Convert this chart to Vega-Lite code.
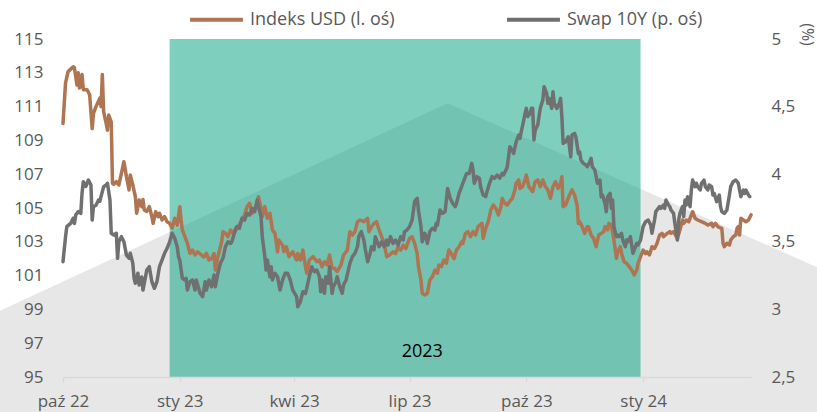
{
"$schema":"https://vega.github.io/schema/vega-lite/v6.json",
"width":688,"height":338,
"autosize":{"type":"none"},
"padding":{"left":63,"top":39,"right":66,"bottom":35},
"background":"white",
"config":{"view":{"stroke":null},"font":"Open Sans","axis":{"grid":false,"labelFont":"Open Sans","labelFontSize":17,"labelColor":"#595959"}},
"datasets":{
"bg":[{"d":"2022-08-12","v":98.9},{"d":"2023-07-31","v":111.2},{"d":"2024-05-17","v":101.5}],
"band":[{"a":"2022-12-24","b":"2023-12-30"}],
"lab":[{"d":"2023-07-11","v":96.5,"t":"2023"}],
"usd":[
{"d":"2022-10-01","v":110.0},{"d":"2022-10-03","v":112.4},{"d":"2022-10-05","v":113.07},{"d":"2022-10-09","v":113.36},{"d":"2022-10-10","v":113.3},{"d":"2022-10-12","v":112.28},{"d":"2022-10-13","v":113.0},{"d":"2022-10-14","v":112.1},{"d":"2022-10-16","v":112.9},{"d":"2022-10-17","v":112.0},{"d":"2022-10-20","v":112.0},{"d":"2022-10-22","v":111.7},{"d":"2022-10-24","v":109.7},{"d":"2022-10-25","v":110.6},{"d":"2022-10-27","v":111.0},{"d":"2022-10-30","v":111.5},{"d":"2022-10-31","v":111.0},{"d":"2022-11-01","v":112.9},{"d":"2022-11-02","v":110.7},{"d":"2022-11-04","v":110.0},{"d":"2022-11-05","v":109.6},{"d":"2022-11-06","v":110.5},{"d":"2022-11-08","v":110.1},{"d":"2022-11-09","v":106.46},{"d":"2022-11-10","v":106.4},{"d":"2022-11-12","v":106.56},{"d":"2022-11-14","v":106.36},{"d":"2022-11-16","v":107.05},{"d":"2022-11-18","v":107.74},{"d":"2022-11-20","v":106.85},{"d":"2022-11-22","v":106.07},{"d":"2022-11-23","v":106.95},{"d":"2022-11-25","v":106.36},{"d":"2022-11-27","v":105.67},{"d":"2022-11-28","v":104.69},{"d":"2022-11-30","v":105.47},{"d":"2022-12-02","v":105.08},{"d":"2022-12-03","v":105.5},{"d":"2022-12-04","v":104.88},{"d":"2022-12-06","v":104.8},{"d":"2022-12-08","v":105.08},{"d":"2022-12-10","v":104.49},{"d":"2022-12-11","v":104.09},{"d":"2022-12-13","v":104.78},{"d":"2022-12-15","v":104.49},{"d":"2022-12-16","v":104.69},{"d":"2022-12-18","v":104.29},{"d":"2022-12-20","v":104.49},{"d":"2022-12-22","v":104.19},{"d":"2022-12-24","v":104.09},{"d":"2022-12-26","v":103.8},{"d":"2022-12-28","v":104.39},{"d":"2022-12-30","v":103.99},
{"d":"2023-01-01","v":105.08},{"d":"2023-01-02","v":104.29},{"d":"2023-01-03","v":103.7},{"d":"2023-01-05","v":103.3},{"d":"2023-01-07","v":102.91},{"d":"2023-01-09","v":102.32},{"d":"2023-01-11","v":102.51},{"d":"2023-01-13","v":102.22},{"d":"2023-01-15","v":102.41},{"d":"2023-01-18","v":102.22},{"d":"2023-01-20","v":102.1},{"d":"2023-01-22","v":102.32},{"d":"2023-01-24","v":101.92},{"d":"2023-01-26","v":102.0},{"d":"2023-01-28","v":102.3},{"d":"2023-01-29","v":101.33},{"d":"2023-01-31","v":102.12},{"d":"2023-02-03","v":103.0},{"d":"2023-02-04","v":103.6},{"d":"2023-02-06","v":103.5},{"d":"2023-02-08","v":103.3},{"d":"2023-02-10","v":103.7},{"d":"2023-02-12","v":103.5},{"d":"2023-02-14","v":103.8},{"d":"2023-02-16","v":103.9},{"d":"2023-02-19","v":104.29},{"d":"2023-02-21","v":104.59},{"d":"2023-02-23","v":105.08},{"d":"2023-02-25","v":105.28},{"d":"2023-02-27","v":104.69},{"d":"2023-03-01","v":104.88},{"d":"2023-03-03","v":105.37},{"d":"2023-03-04","v":105.67},{"d":"2023-03-06","v":104.98},{"d":"2023-03-07","v":104.49},{"d":"2023-03-09","v":105.08},{"d":"2023-03-11","v":104.39},{"d":"2023-03-13","v":104.69},{"d":"2023-03-15","v":103.7},{"d":"2023-03-17","v":103.5},{"d":"2023-03-19","v":102.41},{"d":"2023-03-20","v":103.1},{"d":"2023-03-23","v":102.8},{"d":"2023-03-24","v":102.41},{"d":"2023-03-26","v":102.7},{"d":"2023-03-28","v":102.12},{"d":"2023-03-31","v":102.41},{"d":"2023-04-03","v":101.92},{"d":"2023-04-04","v":102.3},{"d":"2023-04-06","v":101.92},{"d":"2023-04-08","v":102.51},{"d":"2023-04-10","v":101.53},{"d":"2023-04-11","v":101.14},{"d":"2023-04-13","v":101.92},{"d":"2023-04-16","v":102.12},{"d":"2023-04-19","v":101.82},{"d":"2023-04-21","v":101.92},{"d":"2023-04-23","v":101.53},{"d":"2023-04-25","v":101.82},{"d":"2023-04-27","v":101.63},{"d":"2023-04-29","v":102.22},{"d":"2023-05-01","v":101.43},{"d":"2023-05-03","v":101.43},{"d":"2023-05-05","v":101.23},{"d":"2023-05-08","v":101.63},{"d":"2023-05-10","v":102.22},{"d":"2023-05-13","v":102.51},{"d":"2023-05-15","v":103.6},{"d":"2023-05-17","v":103.4},{"d":"2023-05-19","v":103.6},{"d":"2023-05-21","v":104.19},{"d":"2023-05-23","v":104.29},{"d":"2023-05-26","v":104.19},{"d":"2023-05-29","v":104.39},{"d":"2023-05-30","v":103.6},{"d":"2023-06-01","v":103.89},{"d":"2023-06-03","v":104.09},{"d":"2023-06-05","v":104.19},{"d":"2023-06-07","v":103.7},{"d":"2023-06-09","v":103.3},{"d":"2023-06-11","v":102.91},{"d":"2023-06-13","v":102.12},{"d":"2023-06-15","v":102.2},{"d":"2023-06-18","v":102.41},{"d":"2023-06-20","v":102.3},{"d":"2023-06-22","v":102.71},{"d":"2023-06-24","v":102.51},{"d":"2023-06-26","v":102.8},{"d":"2023-06-28","v":102.6},{"d":"2023-07-01","v":103.2},{"d":"2023-07-03","v":103.3},{"d":"2023-07-05","v":102.91},{"d":"2023-07-07","v":102.32},{"d":"2023-07-08","v":101.53},{"d":"2023-07-10","v":100.74},{"d":"2023-07-11","v":99.95},{"d":"2023-07-13","v":99.85},{"d":"2023-07-15","v":99.95},{"d":"2023-07-17","v":100.74},{"d":"2023-07-19","v":100.94},{"d":"2023-07-21","v":101.33},{"d":"2023-07-23","v":101.14},{"d":"2023-07-24","v":101.63},{"d":"2023-07-26","v":101.53},{"d":"2023-07-28","v":101.92},{"d":"2023-07-30","v":101.73},{"d":"2023-08-01","v":102.51},{"d":"2023-08-03","v":102.3},{"d":"2023-08-05","v":102.0},{"d":"2023-08-07","v":102.51},{"d":"2023-08-09","v":102.71},{"d":"2023-08-11","v":103.0},{"d":"2023-08-12","v":102.9},{"d":"2023-08-14","v":103.5},{"d":"2023-08-16","v":103.6},{"d":"2023-08-18","v":103.3},{"d":"2023-08-20","v":103.6},{"d":"2023-08-22","v":103.4},{"d":"2023-08-24","v":103.9},{"d":"2023-08-27","v":104.09},{"d":"2023-08-28","v":103.2},{"d":"2023-08-30","v":103.8},{"d":"2023-09-01","v":104.19},{"d":"2023-09-03","v":104.88},{"d":"2023-09-05","v":105.18},{"d":"2023-09-07","v":104.98},{"d":"2023-09-09","v":104.59},{"d":"2023-09-11","v":105.08},{"d":"2023-09-12","v":105.57},{"d":"2023-09-14","v":105.28},{"d":"2023-09-16","v":105.18},{"d":"2023-09-18","v":105.4},{"d":"2023-09-20","v":105.57},{"d":"2023-09-22","v":106.07},{"d":"2023-09-23","v":106.46},{"d":"2023-09-25","v":106.66},{"d":"2023-09-26","v":106.16},{"d":"2023-09-28","v":106.26},{"d":"2023-09-30","v":106.66},{"d":"2023-10-01","v":106.95},{"d":"2023-10-03","v":106.26},{"d":"2023-10-05","v":106.07},{"d":"2023-10-06","v":105.97},{"d":"2023-10-08","v":106.56},{"d":"2023-10-10","v":106.66},{"d":"2023-10-12","v":106.26},{"d":"2023-10-14","v":106.66},{"d":"2023-10-16","v":106.26},{"d":"2023-10-18","v":106.07},{"d":"2023-10-20","v":105.57},{"d":"2023-10-22","v":106.26},{"d":"2023-10-24","v":106.56},{"d":"2023-10-26","v":106.16},{"d":"2023-10-28","v":106.46},{"d":"2023-10-29","v":106.85},{"d":"2023-10-30","v":105.08},{"d":"2023-11-01","v":105.18},{"d":"2023-11-04","v":105.77},{"d":"2023-11-06","v":106.07},{"d":"2023-11-08","v":105.77},{"d":"2023-11-10","v":105.18},{"d":"2023-11-11","v":104.09},{"d":"2023-11-12","v":104.19},{"d":"2023-11-14","v":103.9},{"d":"2023-11-16","v":103.5},{"d":"2023-11-18","v":103.89},{"d":"2023-11-19","v":103.89},{"d":"2023-11-21","v":103.4},{"d":"2023-11-23","v":103.2},{"d":"2023-11-25","v":102.71},{"d":"2023-11-27","v":103.4},{"d":"2023-11-29","v":103.5},{"d":"2023-12-01","v":103.6},{"d":"2023-12-02","v":103.9},{"d":"2023-12-04","v":103.7},{"d":"2023-12-05","v":104.09},{"d":"2023-12-07","v":104.0},{"d":"2023-12-09","v":103.1},{"d":"2023-12-11","v":102.02},{"d":"2023-12-12","v":102.41},{"d":"2023-12-14","v":102.71},{"d":"2023-12-15","v":102.32},{"d":"2023-12-17","v":101.82},{"d":"2023-12-19","v":101.73},{"d":"2023-12-21","v":101.53},{"d":"2023-12-23","v":101.33},{"d":"2023-12-25","v":101.04},{"d":"2023-12-27","v":101.33},{"d":"2023-12-28","v":101.73},{"d":"2023-12-30","v":102.12},
{"d":"2024-01-01","v":102.51},{"d":"2024-01-03","v":102.3},{"d":"2024-01-04","v":102.41},{"d":"2024-01-06","v":102.22},{"d":"2024-01-08","v":102.71},{"d":"2024-01-10","v":102.6},{"d":"2024-01-12","v":102.91},{"d":"2024-01-14","v":103.4},{"d":"2024-01-16","v":103.5},{"d":"2024-01-17","v":103.3},{"d":"2024-01-20","v":103.5},{"d":"2024-01-22","v":103.6},{"d":"2024-01-23","v":103.5},{"d":"2024-01-25","v":103.6},{"d":"2024-01-28","v":103.2},{"d":"2024-01-30","v":103.7},{"d":"2024-02-01","v":104.29},{"d":"2024-02-02","v":104.09},{"d":"2024-02-04","v":104.29},{"d":"2024-02-06","v":104.19},{"d":"2024-02-08","v":104.59},{"d":"2024-02-09","v":104.78},{"d":"2024-02-11","v":104.39},{"d":"2024-02-13","v":104.29},{"d":"2024-02-16","v":104.19},{"d":"2024-02-19","v":104.09},{"d":"2024-02-21","v":103.99},{"d":"2024-02-24","v":104.09},{"d":"2024-02-25","v":103.89},{"d":"2024-02-27","v":104.09},{"d":"2024-02-29","v":103.89},{"d":"2024-03-03","v":103.8},{"d":"2024-03-04","v":102.91},{"d":"2024-03-05","v":102.71},{"d":"2024-03-07","v":102.91},{"d":"2024-03-09","v":102.81},{"d":"2024-03-10","v":103.1},{"d":"2024-03-12","v":103.3},{"d":"2024-03-14","v":103.4},{"d":"2024-03-15","v":103.8},{"d":"2024-03-16","v":103.9},{"d":"2024-03-17","v":103.4},{"d":"2024-03-18","v":104.39},{"d":"2024-03-20","v":104.29},{"d":"2024-03-22","v":104.19},{"d":"2024-03-24","v":104.29},{"d":"2024-03-26","v":104.59}
],
"swap":[
{"d":"2022-10-01","v":3.353},{"d":"2022-10-03","v":3.538},{"d":"2022-10-04","v":3.612},{"d":"2022-10-07","v":3.636},{"d":"2022-10-09","v":3.674},{"d":"2022-10-10","v":3.636},{"d":"2022-10-11","v":3.698},{"d":"2022-10-13","v":3.723},{"d":"2022-10-15","v":3.71},{"d":"2022-10-16","v":3.859},{"d":"2022-10-17","v":3.944},{"d":"2022-10-19","v":3.91},{"d":"2022-10-21","v":3.957},{"d":"2022-10-23","v":3.92},{"d":"2022-10-24","v":3.661},{"d":"2022-10-25","v":3.76},{"d":"2022-10-27","v":3.77},{"d":"2022-10-29","v":3.809},{"d":"2022-10-30","v":3.8},{"d":"2022-11-01","v":3.871},{"d":"2022-11-02","v":3.907},{"d":"2022-11-04","v":3.92},{"d":"2022-11-05","v":3.933},{"d":"2022-11-07","v":3.809},{"d":"2022-11-08","v":3.563},{"d":"2022-11-10","v":3.55},{"d":"2022-11-12","v":3.563},{"d":"2022-11-13","v":3.378},{"d":"2022-11-14","v":3.5},{"d":"2022-11-16","v":3.538},{"d":"2022-11-18","v":3.5},{"d":"2022-11-20","v":3.402},{"d":"2022-11-22","v":3.378},{"d":"2022-11-23","v":3.415},{"d":"2022-11-25","v":3.341},{"d":"2022-11-26","v":3.23},{"d":"2022-11-27","v":3.193},{"d":"2022-11-29","v":3.267},{"d":"2022-11-30","v":3.18},{"d":"2022-12-02","v":3.24},{"d":"2022-12-03","v":3.143},{"d":"2022-12-05","v":3.24},{"d":"2022-12-06","v":3.291},{"d":"2022-12-08","v":3.316},{"d":"2022-12-10","v":3.205},{"d":"2022-12-12","v":3.156},{"d":"2022-12-14","v":3.205},{"d":"2022-12-16","v":3.316},{"d":"2022-12-18","v":3.365},{"d":"2022-12-20","v":3.415},{"d":"2022-12-22","v":3.452},{"d":"2022-12-24","v":3.5},{"d":"2022-12-26","v":3.563},{"d":"2022-12-28","v":3.526},{"d":"2022-12-30","v":3.464},{"d":"2022-12-31","v":3.39},
{"d":"2023-01-01","v":3.365},{"d":"2023-01-03","v":3.23},{"d":"2023-01-05","v":3.218},{"d":"2023-01-06","v":3.23},{"d":"2023-01-07","v":3.143},{"d":"2023-01-09","v":3.205},{"d":"2023-01-11","v":3.218},{"d":"2023-01-13","v":3.143},{"d":"2023-01-14","v":3.218},{"d":"2023-01-17","v":3.119},{"d":"2023-01-19","v":3.094},{"d":"2023-01-21","v":3.205},{"d":"2023-01-22","v":3.143},{"d":"2023-01-24","v":3.218},{"d":"2023-01-26","v":3.168},{"d":"2023-01-28","v":3.254},{"d":"2023-01-29","v":3.168},{"d":"2023-01-31","v":3.267},{"d":"2023-02-02","v":3.341},{"d":"2023-02-04","v":3.378},{"d":"2023-02-06","v":3.464},{"d":"2023-02-08","v":3.5},{"d":"2023-02-10","v":3.488},{"d":"2023-02-11","v":3.5},{"d":"2023-02-13","v":3.563},{"d":"2023-02-15","v":3.612},{"d":"2023-02-17","v":3.6},{"d":"2023-02-19","v":3.674},{"d":"2023-02-21","v":3.66},{"d":"2023-02-23","v":3.71},{"d":"2023-02-25","v":3.698},{"d":"2023-02-27","v":3.747},{"d":"2023-03-01","v":3.723},{"d":"2023-03-03","v":3.809},{"d":"2023-03-04","v":3.76},{"d":"2023-03-06","v":3.686},{"d":"2023-03-07","v":3.538},{"d":"2023-03-09","v":3.39},{"d":"2023-03-10","v":3.291},{"d":"2023-03-11","v":3.365},{"d":"2023-03-13","v":3.242},{"d":"2023-03-14","v":3.316},{"d":"2023-03-15","v":3.218},{"d":"2023-03-17","v":3.267},{"d":"2023-03-19","v":3.242},{"d":"2023-03-21","v":3.143},{"d":"2023-03-23","v":3.218},{"d":"2023-03-25","v":3.267},{"d":"2023-03-27","v":3.267},{"d":"2023-03-29","v":3.218},{"d":"2023-03-31","v":3.143},{"d":"2023-04-03","v":3.094},{"d":"2023-04-04","v":3.02},{"d":"2023-04-06","v":3.057},{"d":"2023-04-08","v":3.131},{"d":"2023-04-10","v":3.118},{"d":"2023-04-11","v":3.156},{"d":"2023-04-13","v":3.242},{"d":"2023-04-15","v":3.316},{"d":"2023-04-17","v":3.279},{"d":"2023-04-19","v":3.291},{"d":"2023-04-21","v":3.242},{"d":"2023-04-22","v":3.131},{"d":"2023-04-23","v":3.217},{"d":"2023-04-25","v":3.119},{"d":"2023-04-26","v":3.242},{"d":"2023-04-28","v":3.193},{"d":"2023-04-29","v":3.316},{"d":"2023-05-01","v":3.119},{"d":"2023-05-02","v":3.168},{"d":"2023-05-04","v":3.205},{"d":"2023-05-05","v":3.242},{"d":"2023-05-07","v":3.168},{"d":"2023-05-09","v":3.119},{"d":"2023-05-10","v":3.18},{"d":"2023-05-12","v":3.218},{"d":"2023-05-15","v":3.341},{"d":"2023-05-17","v":3.39},{"d":"2023-05-19","v":3.415},{"d":"2023-05-21","v":3.464},{"d":"2023-05-22","v":3.538},{"d":"2023-05-24","v":3.575},{"d":"2023-05-26","v":3.513},{"d":"2023-05-27","v":3.452},{"d":"2023-05-29","v":3.353},{"d":"2023-05-31","v":3.415},{"d":"2023-06-01","v":3.464},{"d":"2023-06-03","v":3.44},{"d":"2023-06-04","v":3.538},{"d":"2023-06-06","v":3.488},{"d":"2023-06-07","v":3.464},{"d":"2023-06-09","v":3.5},{"d":"2023-06-11","v":3.464},{"d":"2023-06-13","v":3.513},{"d":"2023-06-14","v":3.476},{"d":"2023-06-16","v":3.538},{"d":"2023-06-18","v":3.488},{"d":"2023-06-20","v":3.513},{"d":"2023-06-22","v":3.476},{"d":"2023-06-24","v":3.538},{"d":"2023-06-26","v":3.513},{"d":"2023-06-27","v":3.575},{"d":"2023-06-29","v":3.587},{"d":"2023-07-01","v":3.612},{"d":"2023-07-03","v":3.66},{"d":"2023-07-05","v":3.797},{"d":"2023-07-07","v":3.822},{"d":"2023-07-08","v":3.735},{"d":"2023-07-10","v":3.612},{"d":"2023-07-11","v":3.5},{"d":"2023-07-13","v":3.563},{"d":"2023-07-14","v":3.538},{"d":"2023-07-15","v":3.488},{"d":"2023-07-17","v":3.575},{"d":"2023-07-19","v":3.6},{"d":"2023-07-21","v":3.587},{"d":"2023-07-22","v":3.636},{"d":"2023-07-23","v":3.624},{"d":"2023-07-25","v":3.735},{"d":"2023-07-27","v":3.71},{"d":"2023-07-29","v":3.723},{"d":"2023-07-30","v":3.809},{"d":"2023-07-31","v":3.895},{"d":"2023-08-02","v":3.822},{"d":"2023-08-04","v":3.785},{"d":"2023-08-06","v":3.76},{"d":"2023-08-07","v":3.785},{"d":"2023-08-09","v":3.858},{"d":"2023-08-10","v":3.883},{"d":"2023-08-12","v":3.933},{"d":"2023-08-14","v":3.982},{"d":"2023-08-15","v":4.006},{"d":"2023-08-17","v":4.006},{"d":"2023-08-19","v":4.08},{"d":"2023-08-20","v":4.03},{"d":"2023-08-21","v":3.933},{"d":"2023-08-23","v":3.982},{"d":"2023-08-25","v":3.97},{"d":"2023-08-26","v":3.907},{"d":"2023-08-28","v":3.846},{"d":"2023-08-30","v":3.834},{"d":"2023-08-31","v":3.871},{"d":"2023-09-02","v":3.933},{"d":"2023-09-04","v":3.982},{"d":"2023-09-06","v":3.97},{"d":"2023-09-08","v":3.994},{"d":"2023-09-10","v":3.97},{"d":"2023-09-12","v":4.006},{"d":"2023-09-13","v":3.994},{"d":"2023-09-15","v":4.031},{"d":"2023-09-16","v":4.055},{"d":"2023-09-18","v":4.203},{"d":"2023-09-19","v":4.19},{"d":"2023-09-21","v":4.154},{"d":"2023-09-23","v":4.24},{"d":"2023-09-25","v":4.29},{"d":"2023-09-26","v":4.265},{"d":"2023-09-27","v":4.314},{"d":"2023-09-29","v":4.401},{"d":"2023-09-30","v":4.45},{"d":"2023-10-01","v":4.487},{"d":"2023-10-02","v":4.426},{"d":"2023-10-04","v":4.45},{"d":"2023-10-05","v":4.487},{"d":"2023-10-06","v":4.487},{"d":"2023-10-07","v":4.253},{"d":"2023-10-08","v":4.327},{"d":"2023-10-10","v":4.364},{"d":"2023-10-12","v":4.487},{"d":"2023-10-14","v":4.549},{"d":"2023-10-15","v":4.647},{"d":"2023-10-17","v":4.598},{"d":"2023-10-18","v":4.524},{"d":"2023-10-19","v":4.561},{"d":"2023-10-21","v":4.487},{"d":"2023-10-22","v":4.61},{"d":"2023-10-23","v":4.524},{"d":"2023-10-25","v":4.487},{"d":"2023-10-27","v":4.524},{"d":"2023-10-28","v":4.561},{"d":"2023-10-29","v":4.426},{"d":"2023-10-30","v":4.228},{"d":"2023-11-01","v":4.24},{"d":"2023-11-03","v":4.277},{"d":"2023-11-05","v":4.129},{"d":"2023-11-06","v":4.29},{"d":"2023-11-08","v":4.302},{"d":"2023-11-09","v":4.277},{"d":"2023-11-11","v":4.154},{"d":"2023-11-12","v":4.166},{"d":"2023-11-13","v":4.105},{"d":"2023-11-15","v":4.08},{"d":"2023-11-17","v":4.068},{"d":"2023-11-18","v":4.055},{"d":"2023-11-20","v":4.092},{"d":"2023-11-21","v":4.117},{"d":"2023-11-22","v":4.055},{"d":"2023-11-24","v":4.031},{"d":"2023-11-25","v":3.982},{"d":"2023-11-26","v":3.933},{"d":"2023-11-28","v":3.957},{"d":"2023-11-29","v":3.833},{"d":"2023-11-30","v":3.846},{"d":"2023-12-02","v":3.784},{"d":"2023-12-03","v":3.723},{"d":"2023-12-04","v":3.833},{"d":"2023-12-06","v":3.858},{"d":"2023-12-07","v":3.747},{"d":"2023-12-08","v":3.809},{"d":"2023-12-09","v":3.612},{"d":"2023-12-11","v":3.538},{"d":"2023-12-12","v":3.55},{"d":"2023-12-13","v":3.538},{"d":"2023-12-15","v":3.563},{"d":"2023-12-16","v":3.513},{"d":"2023-12-18","v":3.464},{"d":"2023-12-19","v":3.513},{"d":"2023-12-20","v":3.5},{"d":"2023-12-22","v":3.538},{"d":"2023-12-24","v":3.415},{"d":"2023-12-25","v":3.44},{"d":"2023-12-27","v":3.488},{"d":"2023-12-28","v":3.476},{"d":"2023-12-30","v":3.513},
{"d":"2024-01-01","v":3.612},{"d":"2024-01-03","v":3.649},{"d":"2024-01-05","v":3.661},{"d":"2024-01-07","v":3.624},{"d":"2024-01-08","v":3.563},{"d":"2024-01-10","v":3.661},{"d":"2024-01-11","v":3.723},{"d":"2024-01-14","v":3.76},{"d":"2024-01-15","v":3.747},{"d":"2024-01-17","v":3.772},{"d":"2024-01-18","v":3.747},{"d":"2024-01-19","v":3.809},{"d":"2024-01-21","v":3.772},{"d":"2024-01-22","v":3.76},{"d":"2024-01-23","v":3.735},{"d":"2024-01-25","v":3.71},{"d":"2024-01-26","v":3.637},{"d":"2024-01-28","v":3.513},{"d":"2024-01-29","v":3.661},{"d":"2024-01-30","v":3.71},{"d":"2024-02-01","v":3.76},{"d":"2024-02-02","v":3.686},{"d":"2024-02-03","v":3.809},{"d":"2024-02-04","v":3.772},{"d":"2024-02-05","v":3.834},{"d":"2024-02-07","v":3.76},{"d":"2024-02-08","v":3.883},{"d":"2024-02-09","v":3.957},{"d":"2024-02-11","v":3.908},{"d":"2024-02-12","v":3.933},{"d":"2024-02-13","v":3.908},{"d":"2024-02-15","v":3.883},{"d":"2024-02-16","v":3.933},{"d":"2024-02-18","v":3.957},{"d":"2024-02-19","v":3.908},{"d":"2024-02-21","v":3.883},{"d":"2024-02-22","v":3.92},{"d":"2024-02-24","v":3.908},{"d":"2024-02-25","v":3.846},{"d":"2024-02-26","v":3.858},{"d":"2024-02-28","v":3.797},{"d":"2024-03-01","v":3.846},{"d":"2024-03-02","v":3.76},{"d":"2024-03-03","v":3.723},{"d":"2024-03-05","v":3.71},{"d":"2024-03-07","v":3.735},{"d":"2024-03-09","v":3.846},{"d":"2024-03-10","v":3.908},{"d":"2024-03-12","v":3.945},{"d":"2024-03-14","v":3.957},{"d":"2024-03-16","v":3.933},{"d":"2024-03-17","v":3.883},{"d":"2024-03-18","v":3.834},{"d":"2024-03-20","v":3.883},{"d":"2024-03-21","v":3.858},{"d":"2024-03-22","v":3.883},{"d":"2024-03-24","v":3.846},{"d":"2024-03-25","v":3.834}
]
},
"layer":[
{"layer":[
 {"data":{"name":"bg"},"mark":{"type":"area","color":"#E7E7E7","opacity":1},
  "encoding":{"x":{"field":"d","type":"temporal","title":null},"y":{"field":"v","type":"quantitative","title":null},"y2":{"datum":92.5}}},
 {"data":{"name":"band"},"mark":{"type":"rect","color":"#00A080","opacity":0.5},
  "encoding":{"x":{"field":"a","type":"temporal","title":null},"x2":{"field":"b"},"y":{"datum":115,"type":"quantitative"},"y2":{"datum":95}}},
 {"data":{"name":"usd"},"mark":{"type":"line","strokeWidth":3.5,"strokeJoin":"round","strokeCap":"round"},
  "encoding":{
   "x":{"field":"d","type":"temporal","title":null,
        "scale":{"domain":[{"year":2022,"month":10,"date":1,"utc":true},{"year":2024,"month":3,"date":26,"utc":true}]},
        "axis":{"values":[{"year":2022,"month":10,"date":1,"utc":true},{"year":2023,"month":1,"date":1,"utc":true},{"year":2023,"month":4,"date":1,"utc":true},{"year":2023,"month":7,"date":1,"utc":true},{"year":2023,"month":10,"date":1,"utc":true},{"year":2024,"month":1,"date":1,"utc":true}],
          "labelExpr":"['sty','lut','mar','kwi','maj','cze','lip','sie','wrz','paź','lis','gru'][utcmonth(datum.value)] + ' ' + utcFormat(datum.value, '%y')",
          "zindex":1,"domainColor":"#D9D9D9","domainWidth":1.5,"tickColor":"#D9D9D9","tickWidth":1.5,"tickSize":5,"labelPadding":11,"labelFlush":false,"labelOverlap":false,"title":null}},
   "y":{"field":"v","type":"quantitative","scale":{"domain":[95,115],"nice":false,"zero":false},
        "axis":{"orient":"left","zindex":1,"values":[95,97,99,101,103,105,107,109,111,113,115],"tickCount":12,"labelOverlap":false,"domain":false,"ticks":false,"tickSize":0,"labelPadding":20,"title":null}},
   "color":{"datum":"Indeks USD (l. oś)","type":"nominal",
     "scale":{"domain":["Indeks USD (l. oś)","Swap 10Y (p. oś)"],"range":["#AF7451","#707070"]},
     "legend":{"orient":"none","legendX":125,"legendY":-48,"direction":"horizontal","title":null,"symbolType":"stroke","symbolSize":2800,"symbolStrokeWidth":4,"labelFontSize":18,"labelFont":"Open Sans","labelColor":"#595959","columnPadding":104,"labelOffset":5,"labelLimit":400}}}},
 {"data":{"name":"lab"},"mark":{"type":"text","fontSize":18,"font":"Open Sans","color":"#000000"},
  "encoding":{"x":{"field":"d","type":"temporal","title":null},"y":{"field":"v","type":"quantitative","title":null},"text":{"field":"t"}}}
]},
{"data":{"name":"swap"},"mark":{"type":"line","strokeWidth":3.5,"strokeJoin":"round","strokeCap":"round"},
 "encoding":{
  "x":{"field":"d","type":"temporal","title":null},
  "y":{"field":"v","type":"quantitative","scale":{"domain":[2.5,5],"nice":false,"zero":false},
       "axis":{"orient":"right","zindex":1,"values":[2.5,3,3.5,4,4.5,5],"tickCount":12,"labelOverlap":false,"labelExpr":"replace(format(datum.value, '.1~f'), '.', ',')","domain":false,"ticks":false,"tickSize":0,"labelPadding":20,
         "title":"(%)","titleAngle":90,"titleX":55,"titleY":-5,"titleAlign":"center","titleBaseline":"middle","titleFontSize":16,"titleFontWeight":"normal","titleColor":"#595959","titleFont":"Open Sans"}},
  "color":{"datum":"Swap 10Y (p. oś)","type":"nominal"}}}
],
"resolve":{"scale":{"y":"independent"}}
}
